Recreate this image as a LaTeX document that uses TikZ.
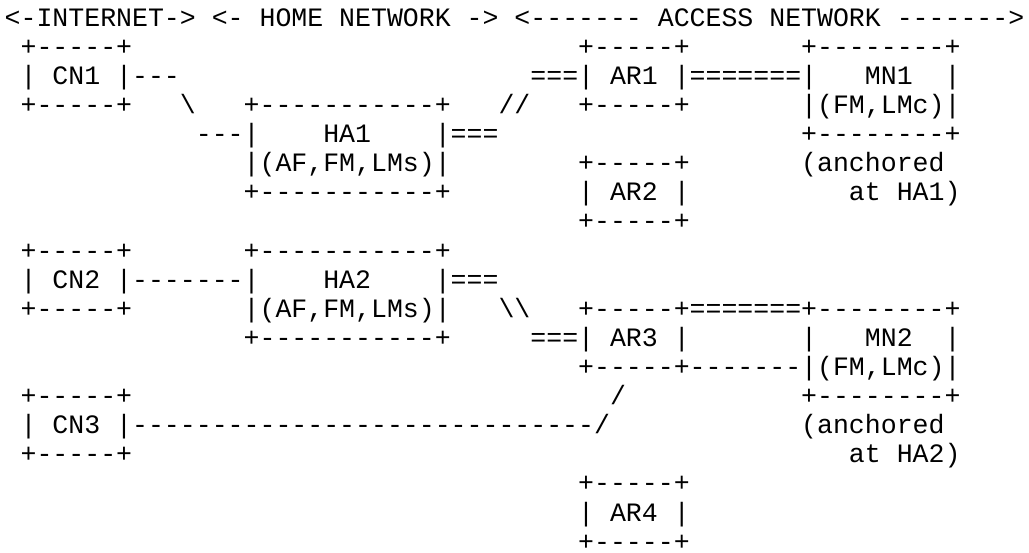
\documentclass[tikz,border=0pt]{standalone}
\usepackage{fontspec}
\setmonofont{Liberation Mono}
\newcommand\ascbs{\textbackslash}
\newcommand\ascseg[4]{\node[asc] (#1) at ({4.7+15.93*#2},{-(26.3+29.1*#3)}) {#4};}
\tikzset{asc/.style={anchor=base west, inner sep=0pt, outer sep=0pt,
  font=\ttfamily\fontsize{26.55}{29.1}\selectfont, text=black}}
\begin{document}
\begin{tikzpicture}[x=1pt,y=1pt]
\fill[white] (0,0) rectangle (1029,-553);
\useasboundingbox (0,0) rectangle (1029,-553);
% line 0
\ascseg{hdrA}{0}{0}{<-INTERNET->}
\ascseg{hdrB}{13}{0}{<-~HOME~NETWORK~->}
\ascseg{hdrC}{32}{0}{<-------~ACCESS~NETWORK~------->}
% line 1
\ascseg{cnOneTop}{1}{1}{+-----+}
\ascseg{arOneTop}{36}{1}{+-----+}
\ascseg{mnOneTop}{50}{1}{+--------+}
% line 2
\ascseg{cnOneMid}{1}{2}{|~CN1~|---}
\ascseg{arOneMid}{33}{2}{===|~AR1~|=======|~~~MN1~~|}
% line 3
\ascseg{cnOneBot}{1}{3}{+-----+}
\ascseg{bsOne}{11}{3}{\ascbs}
\ascseg{haOneTop}{15}{3}{+-----------+}
\ascseg{slOne}{31}{3}{//}
\ascseg{arOneBot}{36}{3}{+-----+}
\ascseg{mnOneSub}{50}{3}{|(FM,LMc)|}
% line 4
\ascseg{haOneMid}{12}{4}{---|~~~~HA1~~~~|===}
\ascseg{mnOneBot}{50}{4}{+--------+}
% line 5
\ascseg{haOneSub}{15}{5}{|(AF,FM,LMs)|}
\ascseg{arTwoTop}{36}{5}{+-----+}
\ascseg{ancOne}{50}{5}{(anchored}
% line 6
\ascseg{haOneBot}{15}{6}{+-----------+}
\ascseg{arTwoMid}{36}{6}{|~AR2~|}
\ascseg{atOne}{53}{6}{at~HA1)}
% line 7
\ascseg{arTwoBot}{36}{7}{+-----+}
% line 8
\ascseg{cnTwoTop}{1}{8}{+-----+}
\ascseg{haTwoTop}{15}{8}{+-----------+}
% line 9
\ascseg{cnTwoMid}{1}{9}{|~CN2~|-------|~~~~HA2~~~~|===}
% line 10
\ascseg{cnTwoBot}{1}{10}{+-----+}
\ascseg{haTwoSub}{15}{10}{|(AF,FM,LMs)|}
\ascseg{bsTwo}{31}{10}{\ascbs\ascbs}
\ascseg{arThreeTop}{36}{10}{+-----+=======+--------+}
% line 11
\ascseg{haTwoBot}{15}{11}{+-----------+}
\ascseg{arThreeMid}{33}{11}{===|~AR3~|}
\ascseg{mnTwoMid}{50}{11}{|~~~MN2~~|}
% line 12
\ascseg{arThreeBot}{36}{12}{+-----+-------|(FM,LMc)|}
% line 13
\ascseg{cnThreeTop}{1}{13}{+-----+}
\ascseg{slTwo}{38}{13}{/}
\ascseg{mnTwoBot}{50}{13}{+--------+}
% line 14
\ascseg{cnThreeMid}{1}{14}{|~CN3~|-----------------------------/}
\ascseg{ancTwo}{50}{14}{(anchored}
% line 15
\ascseg{cnThreeBot}{1}{15}{+-----+}
\ascseg{atTwo}{53}{15}{at~HA2)}
% lines 16-18
\ascseg{arFourTop}{36}{16}{+-----+}
\ascseg{arFourMid}{36}{17}{|~AR4~|}
\ascseg{arFourBot}{36}{18}{+-----+}
\end{tikzpicture}
\end{document}
